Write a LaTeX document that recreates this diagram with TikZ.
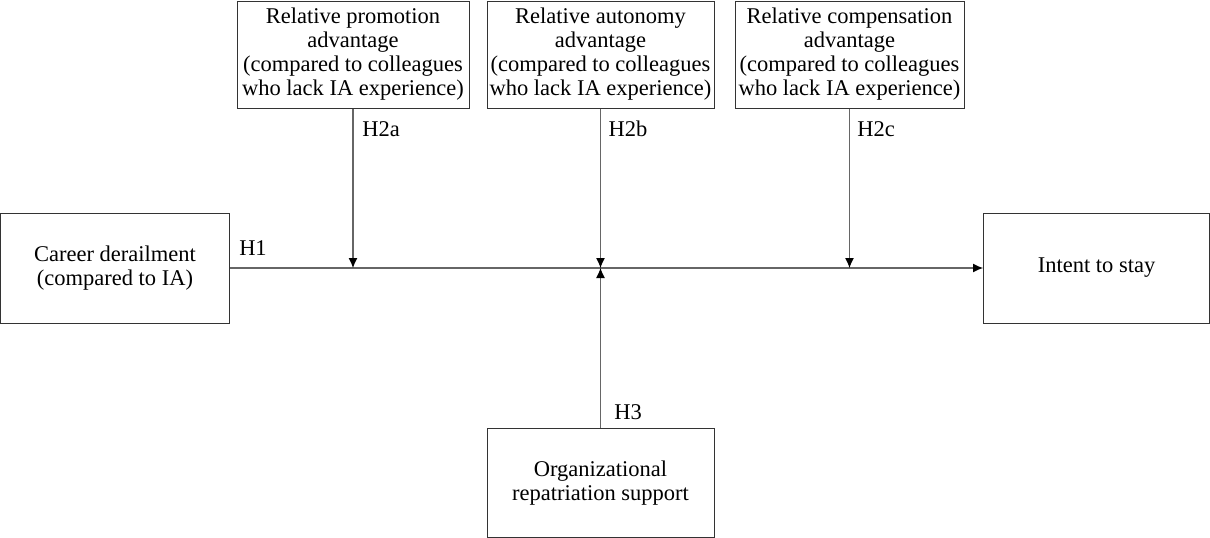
\documentclass[tikz,border=0pt]{standalone}
\usepackage{fontspec}
\setmainfont{Liberation Serif}
\usetikzlibrary{arrows.meta}
\begin{document}
\begin{tikzpicture}[x=1pt,y=-1pt,
  txt/.style={font=\fontsize{22.5}{24}\selectfont},
  box/.style={draw=black!80, line width=1pt, align=center, txt, inner sep=0pt},
  conn/.style={draw=black!60, line width=1.1pt, -{Latex[length=10pt,width=9pt,color=black]}},
  lbl/.style={txt, inner sep=0pt}
]
\useasboundingbox (0,0) rectangle (1210,538);
\node[box, minimum width=232pt, minimum height=107pt] (b1) at (353,54.5)
  {Relative promotion\\advantage\\(compared to colleagues\\who lack IA experience)};
\node[box, minimum width=227pt, minimum height=107pt] (b2) at (600.5,54.5)
  {Relative autonomy\\advantage\\(compared to colleagues\\who lack IA experience)};
\node[box, minimum width=229pt, minimum height=107pt] (b3) at (849.5,54.5)
  {Relative compensation\\advantage\\(compared to colleagues\\who lack IA experience)};
\node[box, minimum width=229pt, minimum height=110pt] (cd) at (115,268)
  {Career derailment\\(compared to IA)};
\node[box, minimum width=226pt, minimum height=110pt] (is) at (1096.5,268)
  {Intent to stay};
\node[box, minimum width=227pt, minimum height=109pt] (ors) at (600.5,483)
  {Organizational\\repatriation support};
\coordinate (m1) at (b1.south |- cd.east);
\coordinate (m2) at (b2.south |- cd.east);
\coordinate (m3) at (b3.south |- cd.east);
\draw[conn] (cd.east) -- (is.west);
\draw[conn] (b1.south) -- (m1);
\draw[conn] (b2.south) -- (m2);
\draw[conn] (b3.south) -- (m3);
\draw[conn] (ors.north) -- (m2);
\node[lbl] (h1) at (253,248) {H1};
\node[lbl] (h2a) at (381,129) {H2a};
\node[lbl] (h2b) at (628,129) {H2b};
\node[lbl] (h2c) at (876,129) {H2c};
\node[lbl] (h3) at (628,412) {H3};
\end{tikzpicture}
\end{document}
